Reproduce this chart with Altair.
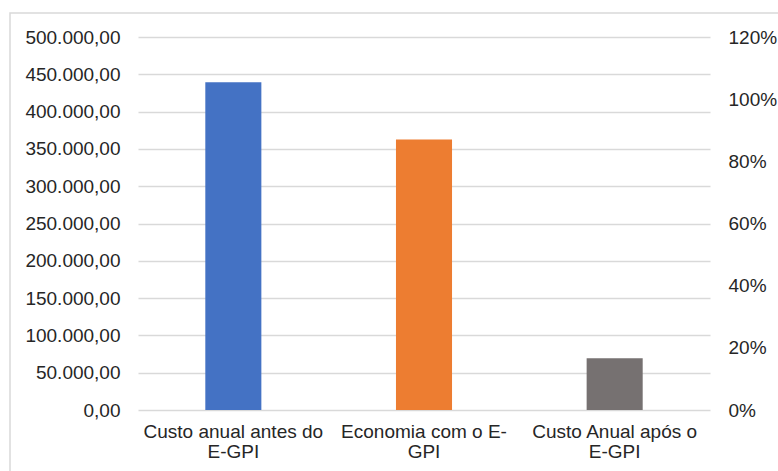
import altair as alt
import pandas as pd

# ---- data ----
categories = ["Custo anual antes do\nE-GPI", "Economia com o E-\nGPI", "Custo Anual após o\nE-GPI"]
values = [439400, 362600, 69300]
colors = ["#4472C4", "#ED7D31", "#767171"]
left_ticks = [0, 50000, 100000, 150000, 200000, 250000, 300000, 350000, 400000, 450000, 500000]
right_ticks = [0, 0.2, 0.4, 0.6, 0.8, 1.0, 1.2]

df = pd.DataFrame({"cat": categories, "valor": values, "cor": colors})
df_right = pd.DataFrame({"p": right_ticks})
df_border = pd.DataFrame({"b": [0]})

FONT = "Liberation Sans"
TXT = "#262626"
GRID = "#d9d9d9"

x_enc = alt.X(
    "cat:N", sort=categories, title=None,
    scale=alt.Scale(paddingInner=0.706, paddingOuter=0.353),
    axis=alt.Axis(labelExpr="split(datum.label, '\\n')", labelAngle=0, domain=False,
                  ticks=False, labelPadding=12, labelFontSize=19, labelFont=FONT,
                  labelColor=TXT, labelLineHeight=20, labelLimit=0),
)

bars = alt.Chart(df).mark_bar().encode(
    x=x_enc,
    y=alt.Y("valor:Q", title=None,
            scale=alt.Scale(domain=[0, 500000], nice=False, zero=True),
            axis=alt.Axis(values=left_ticks, format=",.2f", grid=True, gridColor=GRID,
                          gridWidth=1.5, domain=False, ticks=False, labelPadding=18,
                          labelFontSize=19, labelFont=FONT, labelColor=TXT)),
    color=alt.Color("cor:N", scale=None),
)

right = alt.Chart(df_right).mark_point(opacity=0).encode(
    y=alt.Y("p:Q", title=None,
            scale=alt.Scale(domain=[0, 1.2], nice=False),
            axis=alt.Axis(orient="right", values=right_ticks, format=".0%", grid=False,
                          domain=False, ticks=False, labelPadding=18, labelFontSize=19,
                          labelFont=FONT, labelColor=TXT)),
)

border = alt.Chart(df_border).mark_rect(fillOpacity=0, stroke=GRID, strokeWidth=1.5).encode(
    x=alt.value(-128), x2=alt.value(700), y=alt.value(-24), y2=alt.value(500)
)

chart = (
    alt.layer(border, bars, right)
    .resolve_scale(y="independent")
    .properties(width=572, height=373,
                autosize=alt.AutoSizeParams(type="none"),
                padding={"left": 138, "top": 37, "right": 68, "bottom": 61})
    .configure(view={"stroke": None},
               locale={"number": {"decimal": ",", "thousands": ".", "grouping": [3],
                                  "currency": ["R$", ""]}})
)

chart.save("out.html", embed_options={"renderer": "svg", "actions": False})
